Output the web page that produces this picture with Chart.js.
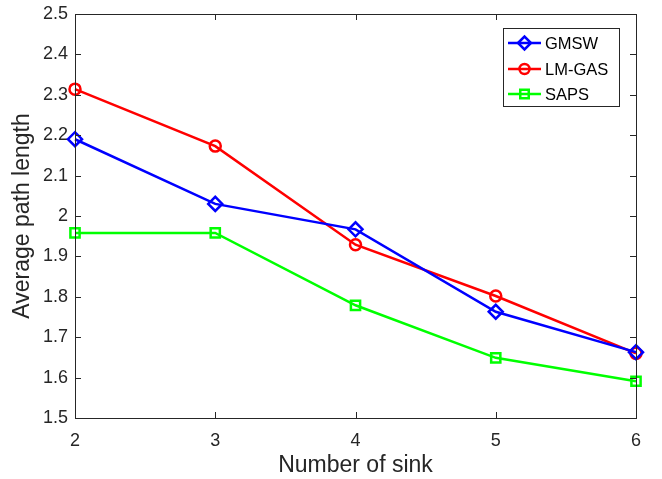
<!DOCTYPE html>
<html>
<head>
<meta charset="utf-8">
<script src="https://cdn.jsdelivr.net/npm/chart.js@4.4.1/dist/chart.umd.min.js"></script>
<style>
  html, body { margin: 0; padding: 0; background: #fff; }
  #wrap { width: 662px; height: 479px; }
</style>
</head>
<body>
<div id="wrap"><canvas id="c" width="662" height="479"></canvas></div>
<script>
const sinks = [2, 3, 4, 5, 6];
const gmsw = [2.19, 2.03, 1.967, 1.763, 1.663];
const lmgas = [2.314, 2.173, 1.929, 1.802, 1.66];
const saps = [1.958, 1.958, 1.779, 1.649, 1.591];
const seriesNames = ["GMSW", "LM-GAS", "SAPS"];

const axisColor = "#262626";
const font = "Liberation Sans, Arial, sans-serif";

function pts(vals) {
  return vals.map((v, i) => ({ x: sinks[i], y: v }));
}

// matlab style box + inward ticks
const boxTicks = {
  id: "boxTicks",
  afterDatasetsDraw(chart) {
    const { ctx, chartArea: a, scales } = chart;
    ctx.save();
    ctx.strokeStyle = axisColor;
    ctx.lineWidth = 1;
    ctx.strokeRect(a.left + 0.5, a.top + 0.5, a.right - a.left, a.bottom - a.top);
    ctx.beginPath();
    const len = 6;
    scales.x.ticks.forEach(t => {
      const x = Math.round(scales.x.getPixelForValue(t.value)) + 0.5;
      ctx.moveTo(x, a.bottom); ctx.lineTo(x, a.bottom - len);
      ctx.moveTo(x, a.top); ctx.lineTo(x, a.top + len);
    });
    scales.y.ticks.forEach(t => {
      const y = Math.round(scales.y.getPixelForValue(t.value)) + 0.5;
      ctx.moveTo(a.left, y); ctx.lineTo(a.left + len, y);
      ctx.moveTo(a.right, y); ctx.lineTo(a.right - len, y);
    });
    ctx.stroke();
    ctx.restore();
  }
};

// legend: line with marker in the middle
const boxLegend = {
  id: "boxLegend",
  afterDraw(chart) {
    const ctx = chart.ctx;
    const x0 = 503, y0 = 28, w = 116, h = 78;
    ctx.save();
    ctx.fillStyle = "#fff";
    ctx.fillRect(x0, y0, w, h);
    ctx.strokeStyle = axisColor;
    ctx.lineWidth = 1;
    ctx.strokeRect(x0 + 0.5, y0 + 0.5, w, h);
    const rows = [43, 69, 94];
    chart.data.datasets.forEach((ds, i) => {
      const y = rows[i];
      ctx.strokeStyle = ds.borderColor;
      ctx.lineWidth = ds.borderWidth;
      ctx.beginPath();
      ctx.moveTo(508, y); ctx.lineTo(541, y);
      ctx.stroke();
      ctx.fillStyle = "rgba(0,0,0,0)";
      ctx.lineWidth = ds.pointBorderWidth;
      Chart.helpers.drawPoint(ctx, {
        pointStyle: ds.pointStyle, radius: ds.pointRadius - 0.5, borderWidth: ds.pointBorderWidth, rotation: 0
      }, 524.5, y);
      ctx.fillStyle = "#000";
      ctx.font = "16.5px " + font;
      ctx.textBaseline = "middle";
      ctx.fillText(seriesNames[i], 545, y + 1);
    });
    ctx.restore();
  }
};

const mk = (label, data, color, style, r) => ({
  label, data: pts(data), borderColor: color, backgroundColor: color,
  pointStyle: style, pointRadius: r, pointHoverRadius: r,
  pointBorderColor: color, pointBackgroundColor: "rgba(0,0,0,0)",
  pointBorderWidth: 2.5, borderWidth: 2.5, tension: 0, clip: false
});

new Chart(document.getElementById("c"), {
  type: "line",
  data: {
    datasets: [
      mk(seriesNames[0], gmsw, "#0000ff", "rectRot", 7),
      mk(seriesNames[1], lmgas, "#ff0000", "circle", 5.5),
      mk(seriesNames[2], saps, "#00ff00", "rect", 6.5)
    ]
  },
  options: {
    responsive: false,
    animation: false,
    layout: { padding: { top: 14, right: 26, left: 0, bottom: 0 } },
    plugins: { legend: { display: false }, tooltip: { enabled: false } },
    scales: {
      x: {
        type: "linear", min: 2, max: 6,
        border: { display: false },
        grid: { display: false, drawTicks: false },
        ticks: { stepSize: 1, padding: 12, color: axisColor, font: { family: font, size: 18 } },
        title: { display: true, text: "Number of sink", color: axisColor,
                 font: { family: font, size: 23 }, padding: { top: 0, bottom: 0 } },
        afterFit(s) { s.height = 61; }
      },
      y: {
        min: 1.5, max: 2.5,
        border: { display: false },
        grid: { display: false, drawTicks: false },
        ticks: { stepSize: 0.1, padding: 7, color: axisColor, font: { family: font, size: 18 },
                 callback: v => Math.round(v * 10) / 10 },
        title: { display: true, text: "Average path length", color: axisColor,
                 font: { family: font, size: 23 }, padding: { top: 9, bottom: 0 } },
        afterFit(s) { s.width = 75; s.paddingTop = 0; s.paddingBottom = 0; }
      }
    }
  },
  plugins: [boxTicks, boxLegend]
});
</script>
</body>
</html>
